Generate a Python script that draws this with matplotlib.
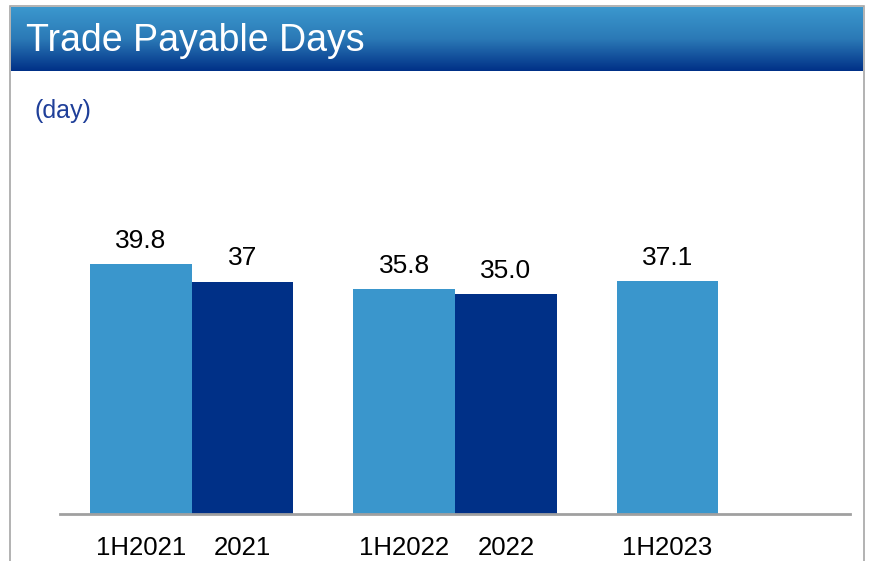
import matplotlib.pyplot as plt
import numpy as np
from matplotlib.patches import Rectangle
from matplotlib.colors import LinearSegmentedColormap

plt.rcParams['font.family'] = ['Liberation Sans', 'DejaVu Sans']

# data
groups = ['2021', '2022', '2023']
half_labels = ['1H2021', '1H2022', '1H2023']
half_values = [39.8, 35.8, 37.1]
half_text = ['39.8', '35.8', '37.1']
year_labels = ['2021', '2022']
year_values = [37.0, 35.0]
year_text = ['37', '35.0']

light = '#3a96cc'
dark = '#003087'

W, H = 881, 561
fig = plt.figure(figsize=(W / 100, H / 100), dpi=100)

# outer gray frame
fig.patches.append(Rectangle((10 / W, -0.05), (864 - 10) / W, (H - 6) / H + 0.05,
                             transform=fig.transFigure, fill=False,
                             edgecolor='#a6a6a6', linewidth=1.2))

# header with vertical gradient
hax = fig.add_axes([11 / W, (H - 71) / H, (863 - 11) / W, 64 / H])
grad = np.linspace(0, 1, 256).reshape(-1, 1)
cmap = LinearSegmentedColormap.from_list('hdr', ['#3b98ce', '#2b79b6', '#003087'])
hax.imshow(grad, aspect='auto', cmap=cmap, extent=[0, 1, 0, 1], origin='upper')
hax.set_axis_off()
hax.text(0.018, 0.47, 'Trade Payable Days', color='white', fontsize=27,
         va='center', ha='left', transform=hax.transAxes)

fig.text(34 / W, 1 - 111 / H, '(day)', color='#1f3f99', fontsize=18,
         va='center', ha='left')

# main chart
ax = fig.add_axes([60 / W, (H - 514) / H, 790 / W, 377 / H])
width = 0.386
x = np.arange(len(groups))
xh = x - width / 2
xy = x[:len(year_values)] + width / 2

ax.bar(xh, half_values, width, color=light)
ax.bar(xy, year_values, width, color=dark)

for xi, v, t in zip(xh, half_values, half_text):
    ax.annotate(t, (xi, v), xytext=(0, 8), textcoords='offset points',
                ha='center', va='bottom', fontsize=19)
for xi, v, t in zip(xy, year_values, year_text):
    ax.annotate(t, (xi, v), xytext=(0, 8), textcoords='offset points',
                ha='center', va='bottom', fontsize=19)

ax.set_xlim(-0.5, 2.5)
ax.set_ylim(0, 60)
ax.set_xticks(list(xh) + list(xy))
ax.set_xticklabels(half_labels + year_labels, fontsize=18.5)
ax.tick_params(axis='x', length=0, pad=16)
ax.set_yticks([])
for s in ['top', 'left', 'right']:
    ax.spines[s].set_visible(False)
ax.spines['bottom'].set_color('#a0a0a0')
ax.spines['bottom'].set_linewidth(2)

plt.savefig('out.png', dpi=100)
